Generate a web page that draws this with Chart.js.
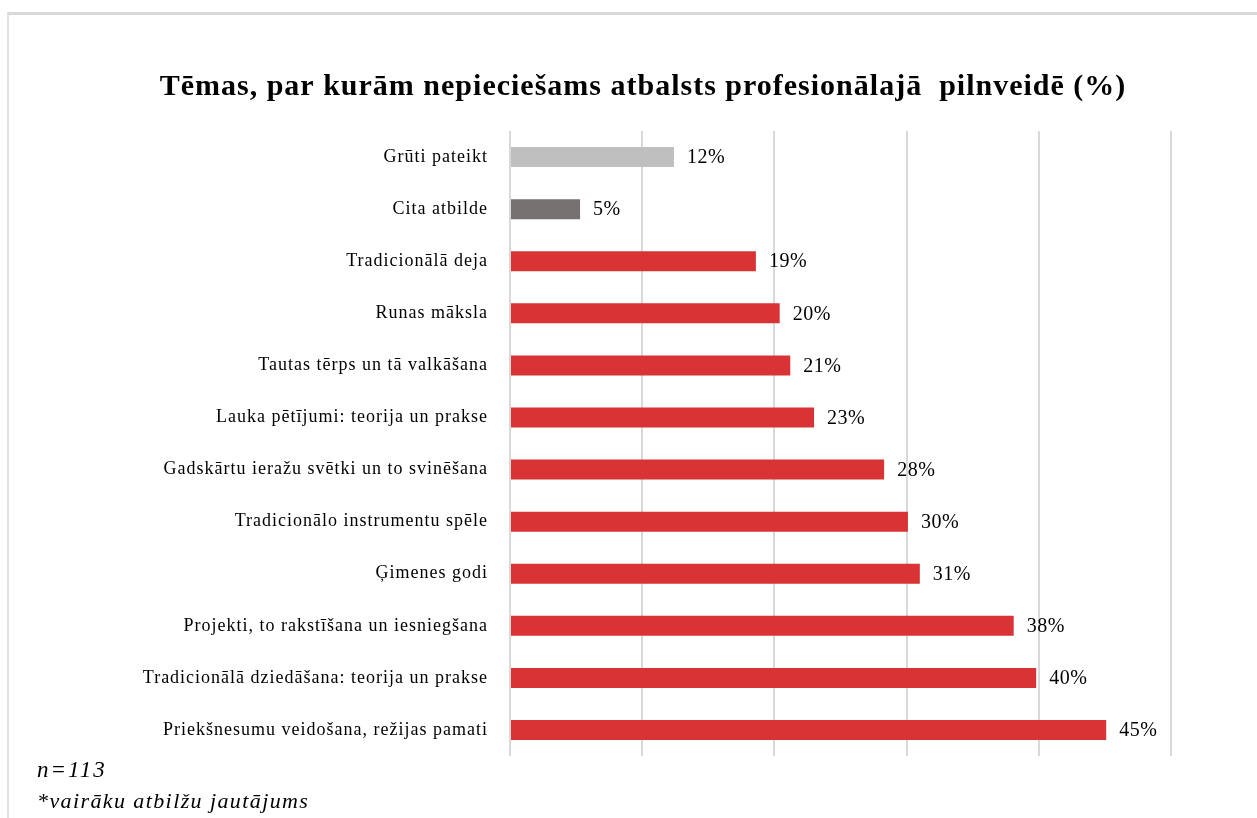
<!DOCTYPE html>
<html>
<head>
<meta charset="utf-8">
<script src="https://cdn.jsdelivr.net/npm/chart.js@4/dist/chart.umd.min.js"></script>
<style>
  html, body { margin: 0; padding: 0; background: #fff; overflow: hidden; }
  #frame {
    position: absolute; left: 7px; top: 12px; width: 1300px; height: 900px;
    border-top: 3px solid #d9d9d9; border-left: 2px solid #e2e2e2;
  }
  #chart-1 { position: absolute; left: 0; top: 0; }
  .note {
    position: absolute; left: 37px; font-family: "Liberation Serif", "Times New Roman", serif;
    font-style: italic; color: #000; white-space: nowrap;
  }
</style>
</head>
<body>
<div id="frame"></div>
<canvas id="chart-1" width="1257" height="818"></canvas>
<div class="note" style="top:757px; font-size:23px; letter-spacing:2px;">n=113</div>
<div class="note" style="top:788px; font-size:22px; letter-spacing:1.4px;">*vairāku atbilžu jautājums</div>
<script>
  const topicLabels = [
    'Grūti pateikt',
    'Cita atbilde',
    'Tradicionālā deja',
    'Runas māksla',
    'Tautas tērps un tā valkāšana',
    'Lauka pētījumi: teorija un prakse',
    'Gadskārtu ieražu svētki un to svinēšana',
    'Tradicionālo instrumentu spēle',
    'Ģimenes godi',
    'Projekti, to rakstīšana un iesniegšana',
    'Tradicionālā dziedāšana: teorija un prakse',
    'Priekšnesumu veidošana, režijas pamati'
  ];

  // shares of n=113, labels show them rounded
  const topicValues = [12.4, 5.3, 18.6, 20.4, 21.2, 23.0, 28.3, 30.1, 31.0, 38.1, 39.8, 45.1];

  const topicColors = [
    '#bfbfbf', '#767171',
    '#da3335', '#da3335', '#da3335', '#da3335', '#da3335',
    '#da3335', '#da3335', '#da3335', '#da3335', '#da3335'
  ];

  const serif = '"Liberation Serif", "Times New Roman", serif';

  // the reference text is a bit stretched sideways
  const spacing = {
    id: 'spacing',
    beforeDraw(chart) {
      chart.ctx.letterSpacing = '1px';
    }
  };

  // draws "12%" etc. right of every bar
  const valueLabels = {
    id: 'valueLabels',
    afterDatasetsDraw(chart) {
      const ctx = chart.ctx;
      const meta = chart.getDatasetMeta(0);
      ctx.save();
      ctx.letterSpacing = '0.5px';
      ctx.font = '20px ' + serif;
      ctx.fillStyle = '#000';
      ctx.textAlign = 'left';
      ctx.textBaseline = 'middle';
      meta.data.forEach((bar, i) => {
        ctx.fillText(Math.round(topicValues[i]) + '%', bar.x + 13, bar.y + 1);
      });
      ctx.restore();
    }
  };

  const barData = {
    labels: topicLabels,
    datasets: [{
      label: 'Tēmas',
      backgroundColor: topicColors,
      data: topicValues,
      barPercentage: 0.4,
      categoryPercentage: 0.96
    }]
  };

  const barConfig = {
    type: 'bar',
    data: barData,
    options: {
      indexAxis: 'y',
      responsive: false,
      animation: false,
      layout: { padding: { left: 115, right: 86, top: 0, bottom: 62 } },
      plugins: {
        legend: { display: false },
        tooltip: { enabled: false },
        title: {
          display: true,
          text: 'Tēmas, par kurām nepieciešams atbalsts profesionālajā  pilnveidē (%)',
          color: '#000',
          font: { family: serif, size: 30, weight: 'bold' },
          padding: { top: 69, bottom: 26 }
        }
      },
      scales: {
        x: {
          min: 0,
          max: 50,
          ticks: { display: false, stepSize: 10 },
          grid: { color: '#d9d9d9', lineWidth: 2, drawTicks: false },
          border: { display: false }
        },
        y: {
          grid: { display: false, drawTicks: false },
          border: { display: false },
          ticks: { color: '#000', padding: 22, font: { family: serif, size: 18 } },
          afterFit(scale) { scale.width = 395; }
        }
      }
    },
    plugins: [spacing, valueLabels]
  };

  const chart1 = new Chart(
    document.getElementById('chart-1'),
    barConfig
  );
</script>
</body>
</html>
